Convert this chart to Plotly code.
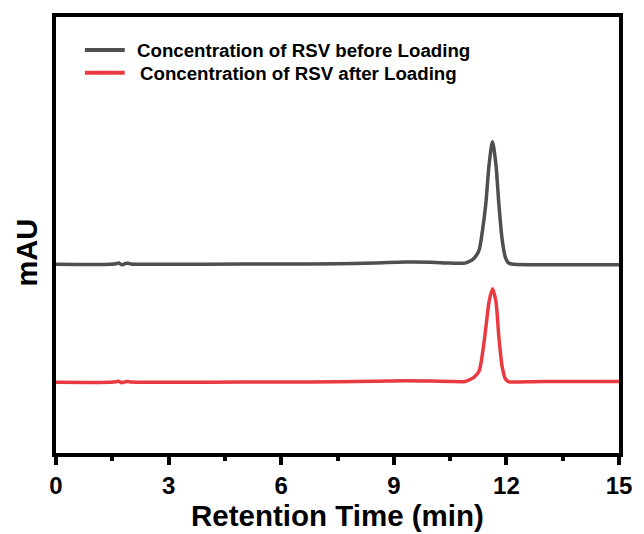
import plotly.graph_objects as go

# Retention time samples (min) and detector response above baseline (mAU)
time_before = [0.0, 1.45, 1.6, 1.67, 1.75, 1.85, 1.92, 2.0, 2.15, 4.0, 6.0, 7.5, 8.5, 9.3,
               10.0, 10.5, 10.9, 11.05, 11.15, 11.27, 11.36, 11.45, 11.54, 11.63, 11.72,
               11.80, 11.89, 11.98, 12.07, 12.2, 13.0, 15.0]
signal_before = [0.0, 0.0, 0.6, 1.2, -0.5, 0.8, 1.0, 0.2, 0.0, 0.1, 0.3, 0.6, 1.3, 2.2,
                 2.0, 1.2, 1.2, 3.5, 6.5, 14.0, 33.0, 60.0, 100.0, 122.5, 100.0,
                 60.0, 24.0, 6.0, 1.0, 0.0, -0.5, -0.5]

time_after = [0.0, 1.45, 1.6, 1.67, 1.75, 1.85, 1.92, 2.0, 2.15, 4.0, 6.0, 7.5, 8.5, 9.3,
              10.0, 10.5, 10.9, 11.05, 11.15, 11.27, 11.36, 11.45, 11.54, 11.63, 11.72,
              11.80, 11.89, 11.98, 12.07, 12.2, 13.0, 15.0]
signal_after = [0.0, 0.0, 0.5, 1.0, -0.4, 0.6, 0.8, 0.2, 0.0, 0.1, 0.3, 0.5, 1.0, 1.6,
                1.3, 0.9, 0.8, 3.0, 5.5, 11.0, 28.0, 54.0, 81.0, 93.5, 81.0,
                45.0, 15.0, 3.0, 0.5, 0.3, 0.8, 0.8]

series_names = ["Concentration of RSV before Loading", "Concentration of RSV after Loading"]
x_ticks = [0, 3, 6, 9, 12, 15]

# vertical stacking offsets so the two chromatograms do not overlap
offset_before = 188.7
offset_after = 70.7
colors = ["#4f4f4f", "#e83a40"]

FONT = "Liberation Sans, Arial, Helvetica, sans-serif"

fig = go.Figure()
for t, s, off, name, col in [
    (time_before, signal_before, offset_before, series_names[0], colors[0]),
    (time_after, signal_after, offset_after, series_names[1], colors[1]),
]:
    fig.add_trace(go.Scatter(
        x=t, y=[v + off for v in s], mode="lines", name=name,
        line=dict(color=col, width=3.5, shape="spline", smoothing=0.8),
        showlegend=False,
    ))

# plot-area geometry (pixels) used for the hand-placed legend and titles
L, R, T, B = 56, 23, 17, 81
W, H = 644, 534
pw, ph = W - L - R, H - T - B


def px_x(px):
    return (px - L) / pw


def px_y(py):
    return (H - B - py) / ph


shapes = []
annotations = []
for i, (name, col) in enumerate(zip(series_names, colors)):
    yy = [50, 72.7][i]
    tx = [135, 138][i]
    shapes.append(dict(type="line", xref="paper", yref="paper",
                       x0=px_x(85), x1=px_x(125), y0=px_y(yy), y1=px_y(yy),
                       line=dict(color=col, width=4)))
    annotations.append(dict(text=name, xref="paper", yref="paper",
                            x=px_x(tx), y=px_y(yy + 0.5), xanchor="left", yanchor="middle",
                            showarrow=False,
                            font=dict(family=FONT, size=18.7, color="#000000", weight="bold")))

annotations.append(dict(text="Retention Time (min)", xref="paper", yref="paper",
                        x=0.5, y=0, yshift=-(515 - (H - B)), xanchor="center", yanchor="middle",
                        showarrow=False,
                        font=dict(family=FONT, size=29.5, color="#000000", weight="bold")))
annotations.append(dict(text="mAU", xref="paper", yref="paper", textangle=-90,
                        x=0, xshift=26 - L, y=px_y(252.5), xanchor="center", yanchor="middle",
                        showarrow=False,
                        font=dict(family=FONT, size=29, color="#000000", weight="bold")))

fig.update_layout(
    width=W, height=H,
    margin=dict(l=L, r=R, t=T, b=B),
    paper_bgcolor="white", plot_bgcolor="white",
    shapes=shapes, annotations=annotations,
    showlegend=False,
)
fig.update_xaxes(
    range=[0, 15], tickvals=x_ticks, ticktext=[str(v) for v in x_ticks],
    showline=True, linecolor="black", linewidth=4, mirror=True,
    ticks="outside", ticklen=8, tickwidth=3.5, tickcolor="black",
    minor=dict(dtick=1.5, ticks="outside", ticklen=4, tickwidth=3.5, tickcolor="black"),
    showgrid=False, zeroline=False,
    tickfont=dict(family=FONT, size=24, color="#000000", weight="bold"),
)
fig.update_yaxes(
    range=[0, ph], showticklabels=False, ticks="",
    showline=True, linecolor="black", linewidth=4, mirror=True,
    showgrid=False, zeroline=False,
)

fig.write_html("out.html")
